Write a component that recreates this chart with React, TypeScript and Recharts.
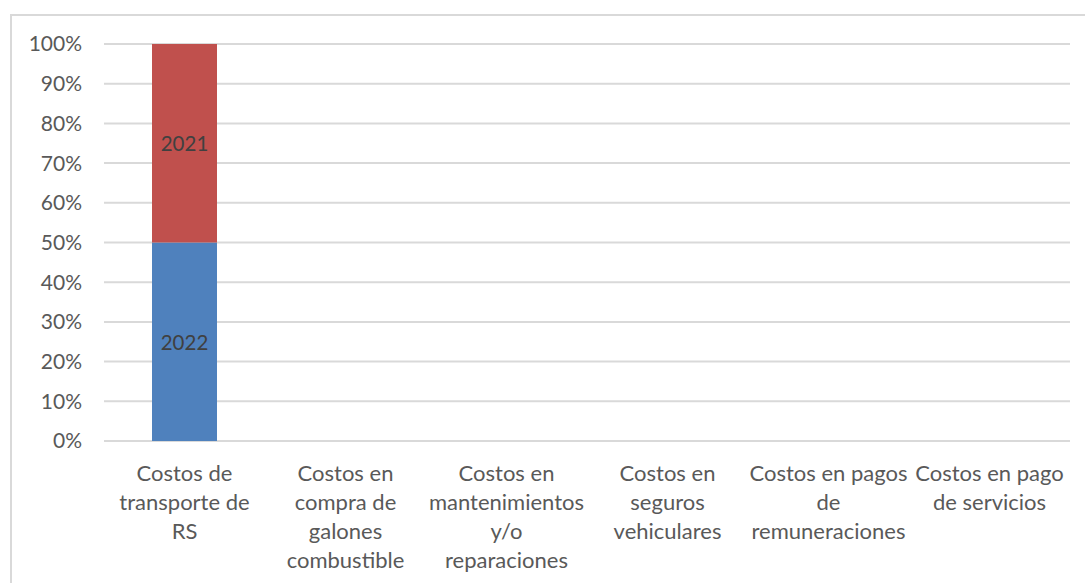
import { BarChart, Bar, XAxis, YAxis, CartesianGrid, LabelList } from 'recharts';

const categories = [
  'Costos de transporte de RS',
  'Costos en compra de galones combustible',
  'Costos en mantenimientos y/o reparaciones',
  'Costos en seguros vehiculares',
  'Costos en pagos de remuneraciones',
  'Costos en pago de servicios',
];

// how Excel wrapped each category label
const categoryLines = [
  ['Costos de', 'transporte de', 'RS'],
  ['Costos en', 'compra de', 'galones', 'combustible'],
  ['Costos en', 'mantenimientos', 'y/o', 'reparaciones'],
  ['Costos en', 'seguros', 'vehiculares'],
  ['Costos en pagos', 'de', 'remuneraciones'],
  ['Costos en pago', 'de servicios'],
];

const values2022 = [50, 0, 0, 0, 0, 0];
const values2021 = [50, 0, 0, 0, 0, 0];

const yTicks = [0, 10, 20, 30, 40, 50, 60, 70, 80, 90, 100];

const data = categories.map((name, i) => ({
  name,
  '2022': values2022[i],
  '2021': values2021[i],
}));

const FONT = 'Lato, "Open Sans", sans-serif';
const TEXT = '#595959';

// eslint-disable-next-line @typescript-eslint/no-explicit-any
const CategoryTick = (props: any) => {
  const { x, y, index } = props;
  const lines = categoryLines[index] ?? [];
  return (
    <text x={x} y={y} textAnchor="middle" fill={TEXT} fontSize={22} fontFamily={FONT}>
      {lines.map((line, i) => (
        <tspan key={i} x={x} dy={i === 0 ? 40 : 29}>
          {line}
        </tspan>
      ))}
    </text>
  );
};

const seriesLabel = (name: string) =>
  // eslint-disable-next-line @typescript-eslint/no-explicit-any
  (props: any) => {
    const { x, y, width, height } = props;
    if (!height || height <= 0) return null;
    return (
      <text
        x={x + width / 2}
        y={y + height / 2}
        textAnchor="middle"
        dominantBaseline="central"
        fill="#404040"
        fontSize={20.5}
        fontFamily={FONT}
      >
        {name}
      </text>
    );
  };

export default function App() {
  return (
    <div
      style={{
        position: 'absolute',
        left: 0,
        top: 0,
        width: 1085,
        height: 583,
        background: '#fff',
        overflow: 'hidden',
      }}
    >
      <div
        style={{
          position: 'absolute',
          left: 10,
          top: 14,
          right: -10,
          bottom: -10,
          borderLeft: '2px solid #d9d9d9',
          borderTop: '2px solid #d9d9d9',
        }}
      />
      <BarChart
        width={1085}
        height={583}
        data={data}
        margin={{ top: 44, right: 15, bottom: 0, left: 0 }}
        style={{ position: 'absolute', left: 0, top: 0 }}
      >
        <CartesianGrid vertical={false} stroke="#d9d9d9" strokeWidth={2} />
        <XAxis
          dataKey="name"
          height={142}
          axisLine={false}
          tickLine={false}
          tickSize={0}
          tickMargin={0}
          interval={0}
          tick={<CategoryTick />}
        />
        <YAxis
          width={104}
          domain={[0, 100]}
          ticks={yTicks}
          interval={0}
          axisLine={false}
          tickLine={false}
          tickSize={0}
          tickMargin={22}
          tickFormatter={(v) => `${v}%`}
          tick={{ fill: TEXT, fontSize: 21, fontFamily: FONT }}
        />
        <Bar dataKey="2022" stackId="a" fill="#4f81bd" barSize={65} isAnimationActive={false}>
          <LabelList dataKey="2022" content={seriesLabel('2022')} />
        </Bar>
        <Bar dataKey="2021" stackId="a" fill="#c0504d" barSize={65} isAnimationActive={false}>
          <LabelList dataKey="2021" content={seriesLabel('2021')} />
        </Bar>
      </BarChart>
    </div>
  );
}
